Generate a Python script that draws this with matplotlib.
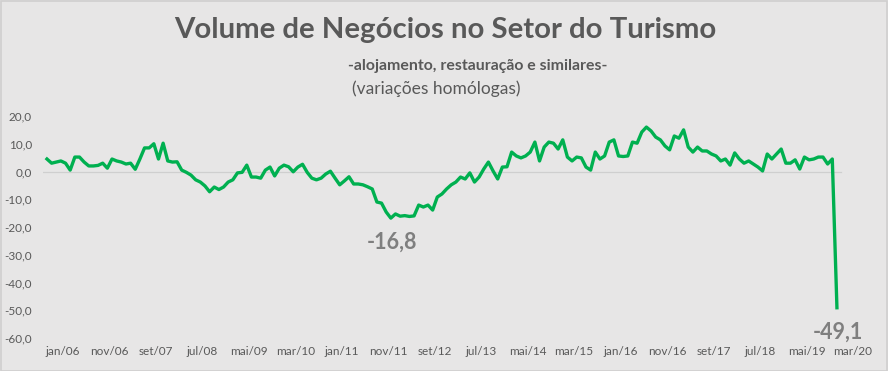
import matplotlib
matplotlib.use("Agg")
import matplotlib.pyplot as plt
from matplotlib.patches import Rectangle
import matplotlib.transforms as mtransforms

# ---- data -----------------------------------------------------------
title = "Volume de Negócios no Setor do Turismo"
subtitle = "-alojamento, restauração e similares-"
subsubtitle = "(variações homólogas)"

tick_labels = ["jan/06", "nov/06", "set/07", "jul/08", "mai/09", "mar/10",
               "jan/11", "nov/11", "set/12", "jul/13", "mai/14", "mar/15",
               "jan/16", "nov/16", "set/17", "jul/18", "mai/19", "mar/20"]

values_2006_2010 = [
    4.5, 3.0, 3.4, 3.8, 3.0, 0.5, 5.2, 5.2, 3.4, 2.0,
    2.0, 2.2, 3.0, 1.2, 4.5, 3.8, 3.4, 2.7, 3.0, 0.8,
    4.5, 8.5, 8.5, 10.0, 4.5, 10.2, 3.8, 3.4, 3.5, 0.5,
    -0.3, -1.3, -3.0, -3.8, -5.2, -7.3, -5.6, -6.5, -5.6, -3.8,
    -3.0, -0.5, -0.3, 2.3, -2.0, -2.0, -2.4, 0.5, 1.6, -1.6,
    1.2,
]
values_2010_2015 = [
    2.3, 1.7, -0.1, 1.6, 2.6, -0.3, -2.4, -3.0, -2.4, -0.9,
    0.1, -2.4, -4.8, -3.4, -1.9, -4.5, -4.5, -4.8, -5.5, -6.3,
    -11.0, -11.4, -14.6, -16.8, -15.3, -16.1, -15.9, -16.2, -16.0, -12.1,
    -12.8, -12.1, -13.9, -9.2, -8.1, -6.3, -4.8, -3.8, -2.0, -2.7,
    -0.5, -3.8, -2.0, 0.9, 3.4, 0.2, -2.7, 1.6, 1.7, 7.0,
    5.6, 4.9, 5.6, 7.0, 10.6, 3.8, 8.8, 10.6, 10.2, 8.1,
]
values_2015_2020 = [
    11.4, 5.2, 3.8, 5.2, 4.9, 1.6, 0.5, 7.0, 4.5, 5.6,
    10.6, 11.4, 5.6, 5.4, 5.6, 10.6, 10.2, 14.2, 16.0, 14.6,
    12.4, 11.4, 9.2, 7.8, 12.8, 12.0, 15.0, 8.8, 7.0, 8.8,
    7.4, 7.4, 6.3, 5.6, 3.8, 4.5, 2.3, 6.7, 4.5, 3.0,
    3.8, 2.7, 1.6, 0.2, 6.3, 4.5, 6.3, 8.1, 3.0, 3.0,
    4.2, 0.9, 5.2, 4.2, 4.5, 5.2, 5.2, 2.7, 4.5, -49.1,
]
values = values_2006_2010 + values_2010_2015 + values_2015_2020
yticks = [20, 10, 0, -10, -20, -30, -40, -50, -60]

# ---- style ----------------------------------------------------------
BG = "#e7e6e6"
GREEN = "#00b050"
TXT = "#595959"
FONT = ["Lato", "DejaVu Sans"]
plt.rcParams["font.family"] = FONT

W, H = 888, 371
fig = plt.figure(figsize=(W / 100, H / 100), dpi=100, facecolor=BG)
fig.patches.append(Rectangle((0.5 / W, 0.5 / H), 1 - 1.5 / W, 1 - 1.5 / H,
                             transform=fig.transFigure, fill=False,
                             edgecolor="#d0cfcf", linewidth=1.2))

n = len(values)
x = list(range(n))
left_px, right_px = 43, 862
bot_px, top_px = 338, 116
ax = fig.add_axes([left_px / W, (H - bot_px) / H,
                   (right_px - left_px) / W, (bot_px - top_px) / H])
ax.set_facecolor(BG)
span = (right_px - left_px) / 4.647
ax.set_xlim(-0.85, -0.85 + span)
ax.set_ylim(-60, 20)

ax.axhline(0, color="#cfcfcf", linewidth=0.9, zorder=1,
           xmax=(n - 0.2 + 0.85) / span)
ax.plot(x, values, color=GREEN, linewidth=2.4, solid_joinstyle="round", zorder=3)

for s in ax.spines.values():
    s.set_visible(False)

ax.set_yticks(yticks)
ax.set_yticklabels([f"{v:.1f}".replace(".", ",") for v in yticks],
                   fontsize=8.5, color=TXT)
ax.set_xticks(range(0, n, 10))
ax.set_xticklabels(tick_labels, fontsize=8.5, color=TXT)
ax.tick_params(axis="both", length=0)
ax.tick_params(axis="x", pad=6)
ax.tick_params(axis="y", pad=8)
offset = mtransforms.ScaledTranslation(16 / 100, 0, fig.dpi_scale_trans)
for lab in ax.get_xticklabels():
    lab.set_transform(lab.get_transform() + offset)

# min and last value annotations
imin = min(range(n - 1), key=lambda i: values[i])
for i in (imin, n - 1):
    ax.annotate(f"{values[i]:.1f}".replace(".", ","), xy=(i, values[i]),
                xytext=(1, -17.5), textcoords="offset points",
                ha="center", va="center", fontsize=15.5, fontweight="bold",
                color="#7f7f7f")

# titles, fitted to reference widths
fig.canvas.draw()
renderer = fig.canvas.get_renderer()

def fitted(text, cx, cy, width_px, weight, color):
    t = fig.text(cx / W, 1 - cy / H, text, ha="center", va="center",
                 fontsize=20, fontweight=weight, color=color)
    w = t.get_window_extent(renderer).width
    t.set_fontsize(20 * width_px / w)
    return t

fitted(title, 445, 30, 543, "bold", TXT)
fitted(subtitle, 478, 66, 260, "bold", TXT)
fitted(subsubtitle, 436, 89, 168, "normal", TXT)

fig.savefig("out.png", dpi=100, facecolor=BG)
